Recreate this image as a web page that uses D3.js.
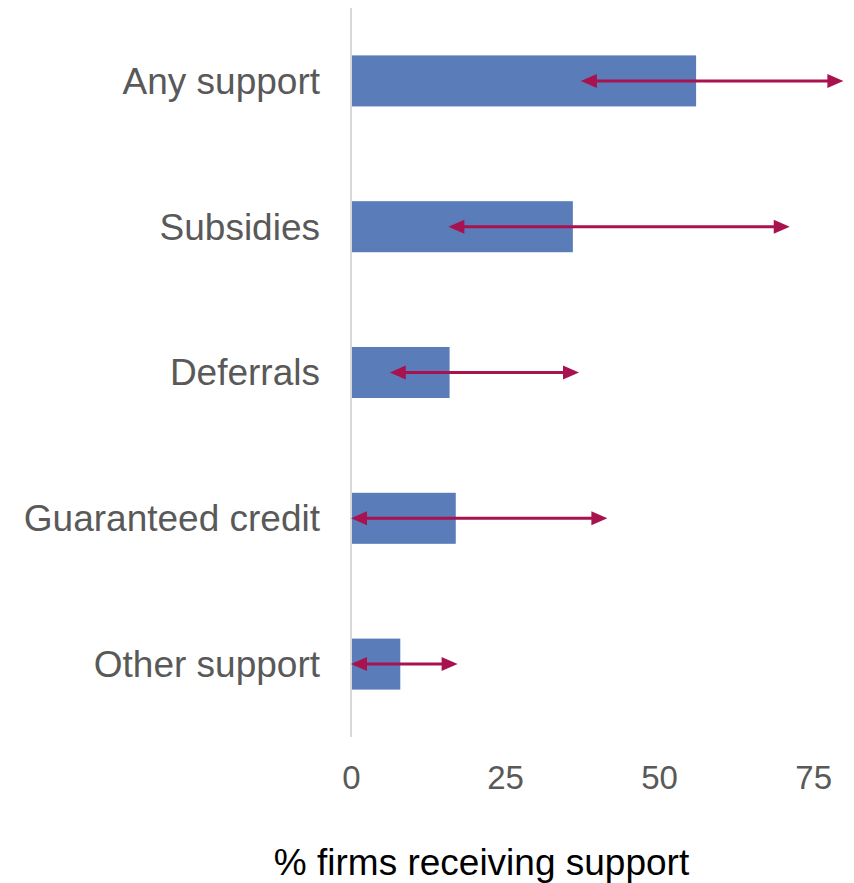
<!DOCTYPE html>
<html>
<head>
<meta charset="utf-8">
<script src="https://cdn.jsdelivr.net/npm/d3@7"></script>
<style>
  body { margin: 0; background: #fff; }
</style>
</head>
<body>
<div id="wrapper"></div>
<script>
width = 854
height = 883

marginTop = 8 // top of the plot area
marginLeft = 351 // where zero sits
plotRight = 844
plotBottom = 737

var categories = ["Any support", "Subsidies", "Deferrals", "Guaranteed credit", "Other support"]
var values = [56, 36, 16, 17, 8]
var lower = [37.3, 15.8, 6.3, 0, 0]
var upper = [79.9, 71.2, 37, 41.6, 17.3]
var ticks = [0, 25, 50, 75]

const svg = d3.select("#wrapper").append("svg")
    .attr("width", width)
    .attr("height", height)
    .style("font-family", "'Liberation Sans', Arial, sans-serif")

var x = d3.scaleLinear()
    .domain([0, 80])
    .range([marginLeft, plotRight])

var y = d3.scaleBand()
    .domain(categories)
    .range([marginTop, plotBottom])
    .paddingInner(0.65)
    .paddingOuter(0.325)

var data = categories.map((c, i) => ({ name: c, value: values[i], lo: lower[i], hi: upper[i] }))

// bars
svg.append("g")
    .selectAll("rect")
    .data(data)
    .join("rect")
    .attr("x", x(0))
    .attr("y", d => y(d.name))
    .attr("width", d => x(d.value) - x(0))
    .attr("height", y.bandwidth())
    .attr("fill", "#5a7dba")

// vertical axis line
svg.append("line")
    .attr("x1", x(0)).attr("x2", x(0))
    .attr("y1", marginTop).attr("y2", plotBottom)
    .attr("stroke", "#d9d9d9")
    .attr("stroke-width", 2)

// category labels
svg.append("g")
    .selectAll("text")
    .data(data)
    .join("text")
    .attr("x", 320)
    .attr("y", d => y(d.name) + y.bandwidth() / 2)
    .attr("dy", "0.35em")
    .attr("text-anchor", "end")
    .attr("fill", "#595959")
    .style("font-size", "37px")
    .text(d => d.name)

// confidence arrows
var arrowColor = "#a8124f"
var headLen = 16, headHalf = 7
var arrows = svg.append("g")
    .selectAll("g")
    .data(data)
    .join("g")
    .attr("transform", d => `translate(0,${y(d.name) + y.bandwidth() / 2})`)

arrows.append("line")
    .attr("x1", d => x(d.lo) + headLen - 2)
    .attr("x2", d => x(d.hi) - headLen + 2)
    .attr("stroke", arrowColor)
    .attr("stroke-width", 3)

arrows.append("path")
    .attr("d", d => `M${x(d.lo)},0 L${x(d.lo) + headLen},${-headHalf} L${x(d.lo) + headLen},${headHalf} Z`)
    .attr("fill", arrowColor)

arrows.append("path")
    .attr("d", d => `M${x(d.hi)},0 L${x(d.hi) - headLen},${-headHalf} L${x(d.hi) - headLen},${headHalf} Z`)
    .attr("fill", arrowColor)

// x axis tick labels
var xAxis = g => g
    .attr("transform", `translate(0,${plotBottom})`)
    .call(d3.axisBottom(x).tickValues(ticks).tickSize(0).tickPadding(29))
    .call(g => g.select(".domain").remove())
    .call(g => g.selectAll("text")
        .attr("fill", "#595959")
        .style("font-size", "33px")
        .style("font-family", "'Liberation Sans', Arial, sans-serif"))

svg.append("g").call(xAxis)

// axis title
svg.append("text")
    .attr("x", (273 + 690) / 2)
    .attr("y", 875)
    .attr("text-anchor", "middle")
    .attr("fill", "#000")
    .style("font-size", "37px")
    .text("% firms receiving support")
</script>
</body>
</html>
